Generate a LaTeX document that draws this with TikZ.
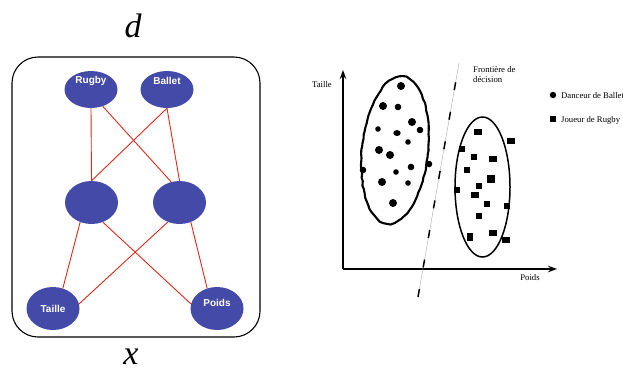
\documentclass[tikz,border=0pt]{standalone}
\usepackage{fontspec}
\setmainfont{Liberation Serif}
\newfontfamily\lsans{Liberation Sans}
\usetikzlibrary{arrows.meta,shapes.geometric,decorations.pathmorphing}
\definecolor{nodeblue}{RGB}{67,74,168}
\definecolor{edgered}{RGB}{225,40,25}
\newcommand\sqm[4]{\fill (#1-#3/2,#2-#4/2) rectangle (#1+#3/2,#2+#4/2);}
\newcommand\dtm[3]{\fill (#1,#2) circle [radius=#3];}
\begin{document}
\begin{tikzpicture}[x=1pt,y=-1pt,
  unit/.style={ellipse, fill=nodeblue, draw=none, minimum width=53pt, minimum height=43pt, inner sep=0pt},
  unitlbl/.style={text=white, font=\lsans\bfseries\fontsize{10}{12}\selectfont, inner sep=0pt},
  link/.style={edgered, line width=0.9pt},
  axis/.style={line width=1.7pt, -{Stealth[length=9pt,width=6.5pt]}},
  lbl/.style={font=\fontsize{8.7}{10}\selectfont, inner sep=0pt},
  big/.style={font=\itshape\fontsize{34}{34}\selectfont, inner sep=0pt}]
\useasboundingbox (0,0) rectangle (623,376);
% ---------- left panel ----------
\node[big] (dlab) at (133,26) {d};
\node[big] (xlab) at (131,357) {x};
\draw[line width=1.1pt, rounded corners=26pt] (12,57) rectangle (260,337);
\node[unit, minimum height=37pt, label={[unitlbl, yshift=9pt]center:Rugby}] (rugby) at (91,89.5) {};
\node[unit, minimum height=37pt, label={[unitlbl, yshift=9pt]center:Ballet}] (ballet) at (167,89.5) {};
\node[unit] (h1) at (91.5,202.5) {};
\node[unit] (h2) at (179.5,202.5) {};
\node[unit, label={[unitlbl]center:Taille}] (taille) at (53,308.5) {};
\node[unit, label={[unitlbl, yshift=6pt]center:Poids}] (poids) at (217,308.5) {};
\draw[link] (rugby.south) -- (h1.north);
\draw[link] (rugby.-55) -- (h2.112);
\draw[link] (ballet.south) -- (h1.north);
\draw[link] (ballet.south) -- (h2.north);
\draw[link] (h1.-120) -- (taille.64);
\draw[link] (h1.-60) -- (poids.170);
\draw[link] (h2.-121) -- (taille.10);
\draw[link] (h2.-60) -- (poids.116);
% ---------- right panel ----------
\coordinate (O) at (343,269);
\coordinate (ytip) at (343,70);
\coordinate (xtip) at (557,269);
\draw[axis] (O) -- (ytip);
\draw[axis] (O) -- (xtip);
\node[lbl] (tl) at (322,85) {Taille};
\node[lbl] (pl) at (530,278) {Poids};
\node[lbl, anchor=north west, align=left] (fr) at (473,66) {Frontière de\\décision};
% decision boundary
\coordinate (db) at (418,297);
\coordinate (dt) at (459,63);
\draw[black!35, line width=0.4pt] (db) -- (dt);
\draw[line width=1.5pt, dash pattern=on 8pt off 22pt] (db) -- (dt);
% clusters
\pgfmathsetseed{7}
\draw[line width=2.1pt, line join=round, rotate around={-6:(395,150)},
  decorate, decoration={random steps, segment length=4pt, amplitude=0.5pt}]
  (395,150) ellipse [x radius=33, y radius=74];
\draw[line width=1.5pt] (482.5,187) ellipse [x radius=27.5, y radius=70];
% ballet dancers
\dtm{401}{86}{4}
\dtm{383}{106}{4}
\dtm{398}{107}{3.3}
\dtm{412}{122}{4}
\dtm{420}{130}{3.3}
\dtm{378}{129}{2.8}
\fill (397,133) ellipse [x radius=3.7, y radius=3];
\dtm{408}{142}{2.8}
\dtm{379}{150}{4}
\dtm{390}{155}{4}
\dtm{363}{170}{3.3}
\dtm{411}{167}{3.3}
\dtm{396}{172}{2.8}
\dtm{429}{164}{3.3}
\dtm{382}{182}{4}
\dtm{408}{183}{2.8}
\dtm{393}{203}{4}
% rugby players
\sqm{478}{132}{7.5}{6.5}
\sqm{511}{141}{7.5}{6.5}
\sqm{462}{149}{6.5}{6.5}
\sqm{474}{157}{6.5}{6.5}
\sqm{493}{159}{7.5}{6.5}
\sqm{467}{170}{6.5}{6.5}
\sqm{491}{179}{7.5}{7.5}
\sqm{479}{186}{6}{6}
\sqm{457}{190}{5.5}{6}
\sqm{475}{195}{7.5}{6.5}
\sqm{487}{204}{6.5}{6.5}
\sqm{507}{206}{6.5}{6.5}
\sqm{479}{216}{6.5}{6.5}
\sqm{470}{237}{6.5}{7.5}
\sqm{493}{233}{7.5}{6.5}
\sqm{506}{240}{7.5}{6.5}
% legend
\dtm{553}{95}{3.2}
\node[lbl, anchor=west] (lg1) at (561,96) {Danceur de Ballet};
\sqm{553}{119}{6.5}{6.5}
\node[lbl, anchor=west] (lg2) at (561,120) {Joueur de Rugby};
\end{tikzpicture}
\end{document}
